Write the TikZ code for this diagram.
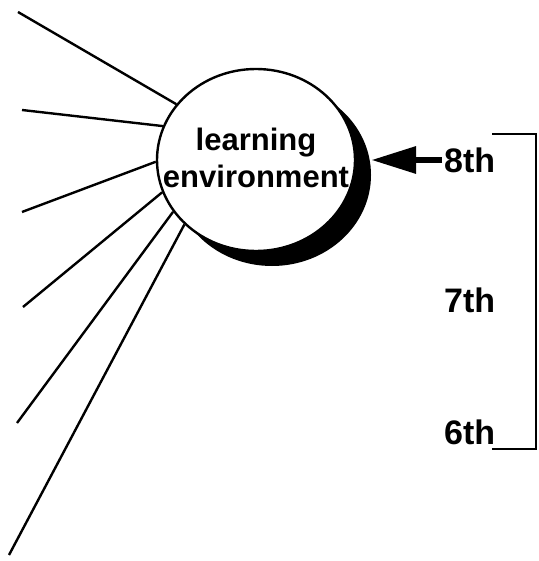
\documentclass[tikz,border=0pt]{standalone}
\usepackage{fontspec}
\setmainfont{Liberation Sans}
\usetikzlibrary{shapes.geometric,arrows.meta}
\begin{document}
\begin{tikzpicture}[x=1pt,y=-1pt,
  ray/.style={line width=2.4pt},
  grade/.style={anchor=west,inner sep=2pt,font=\fontsize{34}{38}\selectfont\bfseries},
  envfont/.style={font=\fontsize{31}{37}\selectfont\bfseries,align=center,inner sep=0pt},
  brk/.style={line width=2.4pt}]
\useasboundingbox (0,0) rectangle (538,561);
% shadow and circle
\node[ellipse,fill=black,minimum width=198pt,minimum height=182pt,inner sep=0pt] (shadow) at (272,175) {};
\node[ellipse,fill=white,draw=black,line width=2.4pt,minimum width=198pt,minimum height=182pt,inner sep=0pt] (env) at (256,160) {};
\node[envfont] (envtext) at (256,158) {learning\\environment};
% rays
\coordinate (r1) at (18,12);
\coordinate (r2) at (22,110);
\coordinate (r3) at (22,212);
\coordinate (r4) at (23,307);
\coordinate (r5) at (17,423);
\coordinate (r6) at (9,555);
\draw[ray] (r1) -- (env.145.8);
\draw[ray] (r2) -- (env.160.5);
\draw[ray] (r3) -- (env.181.7);
\draw[ray] (r4) -- (env.199.5);
\draw[ray] (r5) -- (env.212);
\draw[ray] (r6) -- (env.222.5);
% grades
\node[grade] (g8) at (442,160) {8th};
\node[grade] (g7) at (442,300) {7th};
\node[grade] (g6) at (442,432) {6th};
% arrow
\draw[line width=6.5pt,-{Triangle[length=45pt,width=26pt]}] (g8.west) -- (g8.west -| shadow.east);
% bracket
\coordinate (bt) at (492,134);
\coordinate (bb) at (492,449);
\draw[brk] (bt) -- (bt -| 536,0) -- (bb -| 536,0) -- (bb);
\end{tikzpicture}
\end{document}
